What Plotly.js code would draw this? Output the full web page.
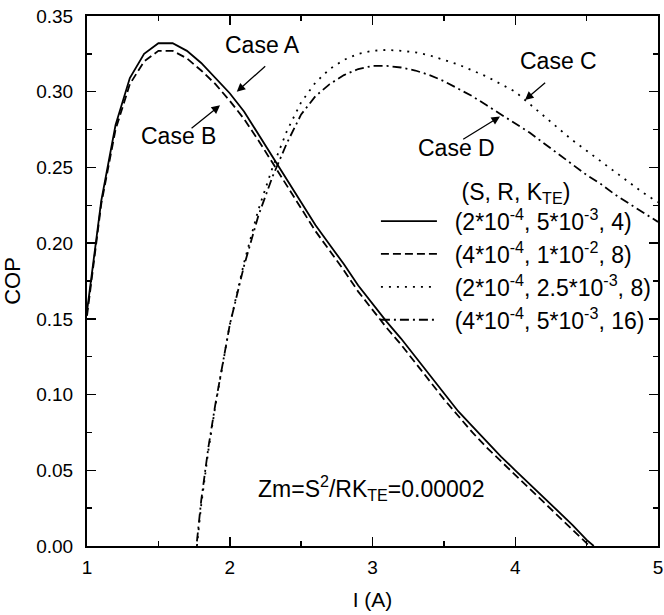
<!DOCTYPE html>
<html>
<head>
<meta charset="utf-8">
<script src="https://cdn.plot.ly/plotly-3.0.1.min.js"></script>
<style>html,body{margin:0;padding:0;background:#fff;}#chart{width:664px;height:615px;}</style>
</head>
<body>
<div id="chart"></div>
<script>
// Case A: (2e-4, 5e-3, 4)
const currentA = [1.0,1.1,1.2,1.3,1.4,1.5,1.6,1.7,1.8,1.9,2.0,2.1,2.2,2.3,2.4,2.5,2.6,2.7,2.8,2.9,3.0,3.1,3.2,3.3,3.4,3.5,3.6,3.7,3.8,3.9,4.0,4.1,4.2,4.3,4.4,4.5,4.55];
const copA = [0.155,0.228,0.278,0.309,0.325,0.332,0.332,0.327,0.319,0.309,0.299,0.287,0.272,0.257,0.242,0.227,0.212,0.199,0.186,0.172,0.160,0.148,0.137,0.125,0.113,0.101,0.089,0.079,0.069,0.059,0.050,0.041,0.032,0.023,0.014,0.004,0.0];
// Case B: (4e-4, 1e-2, 8)
const currentB = [1.0,1.1,1.2,1.3,1.4,1.5,1.6,1.7,1.8,1.9,2.0,2.1,2.2,2.3,2.4,2.5,2.6,2.7,2.8,2.9,3.0,3.1,3.2,3.3,3.4,3.5,3.6,3.7,3.8,3.9,4.0,4.1,4.2,4.3,4.4,4.5,4.52];
const copB = [0.152,0.226,0.275,0.305,0.320,0.327,0.327,0.322,0.314,0.305,0.294,0.282,0.268,0.253,0.238,0.223,0.208,0.195,0.182,0.168,0.156,0.144,0.133,0.121,0.109,0.097,0.086,0.075,0.065,0.056,0.047,0.038,0.029,0.020,0.011,0.002,0.0];
// Case C: (2e-4, 2.5e-3, 8)
const currentC = [1.77,1.8,1.85,1.9,2.0,2.1,2.2,2.3,2.4,2.5,2.6,2.7,2.8,2.9,3.0,3.1,3.2,3.3,3.4,3.5,3.6,3.7,3.8,3.9,4.0,4.1,4.2,4.3,4.4,4.5,4.6,4.7,4.8,4.9,5.0];
const copC = [0.0,0.027,0.063,0.093,0.146,0.187,0.222,0.250,0.274,0.293,0.306,0.315,0.321,0.325,0.327,0.3276,0.327,0.326,0.324,0.321,0.318,0.314,0.310,0.305,0.300,0.292,0.284,0.276,0.268,0.261,0.254,0.247,0.240,0.233,0.227];
// Case D: (4e-4, 5e-3, 16)
const currentD = [1.77,1.8,1.85,1.9,2.0,2.1,2.2,2.3,2.4,2.5,2.6,2.7,2.8,2.9,3.0,3.1,3.2,3.3,3.4,3.5,3.6,3.7,3.8,3.9,4.0,4.1,4.2,4.3,4.4,4.5,4.6,4.7,4.8,4.9,5.0];
const copD = [0.003,0.030,0.065,0.094,0.146,0.185,0.218,0.244,0.266,0.285,0.297,0.305,0.311,0.315,0.317,0.317,0.316,0.314,0.311,0.307,0.302,0.297,0.291,0.285,0.279,0.273,0.266,0.259,0.252,0.245,0.239,0.232,0.226,0.220,0.214];

const legendNames = [
  '  (2*10<sup>-4</sup>, 5*10<sup>-3</sup>, 4)',
  '  (4*10<sup>-4</sup>, 1*10<sup>-2</sup>, 8)',
  '  (2*10<sup>-4</sup>, 2.5*10<sup>-3</sup>, 8)',
  '  (4*10<sup>-4</sup>, 5*10<sup>-3</sup>, 16)'
];
const legendTitle = '(S, R, K<sub>TE</sub>)';
const caseLabels = ['Case A','Case B','Case C','Case D'];
const caseTextPos = [[2.231,0.331],[1.640,0.271],[4.30,0.320],[3.59,0.2627]];
const caseArrowTail = [[2.259,0.3177],[1.722,0.275],[4.22,0.3067],[3.625,0.268]];
const caseArrowTip = [[2.049,0.300],[1.932,0.291],[4.068,0.2946],[3.893,0.2836]];
const zmText = 'Zm=S<sup>2</sup>/RK<sub>TE</sub>=0.00002';

const FONT = 'Liberation Sans, Arial, sans-serif';
const lineStyles = [
  {color:'#000', width:1.8, dash:'solid'},
  {color:'#000', width:1.8, dash:'8px,4px'},
  {color:'#000', width:1.8, dash:'2px,6px'},
  {color:'#000', width:1.8, dash:'9px,4px,2px,4px'}
];
const xs = [currentA,currentB,currentC,currentD];
const ys = [copA,copB,copC,copD];
const data = xs.map((x,i)=>({x:x,y:ys[i],type:'scatter',mode:'lines',name:legendNames[i],line:lineStyles[i]}));

const annotations = [];
caseLabels.forEach((t,i)=>{
  annotations.push({x:caseTextPos[i][0],y:caseTextPos[i][1],xref:'x',yref:'y',text:t,showarrow:false,font:{family:FONT,size:23,color:'#000'}});
  annotations.push({x:caseArrowTip[i][0],y:caseArrowTip[i][1],xref:'x',yref:'y',ax:caseArrowTail[i][0],ay:caseArrowTail[i][1],axref:'x',ayref:'y',text:'',showarrow:true,arrowhead:2,arrowsize:1.3,arrowwidth:1.3,arrowcolor:'#000',standoff:0,startstandoff:0});
});
annotations.push({x:2.99,y:0.0383,xref:'x',yref:'y',text:zmText,showarrow:false,font:{family:FONT,size:23,color:'#000'}});

const axisCommon = {
  showline:true, linewidth:2, linecolor:'#000', mirror:'ticks',
  ticks:'inside', ticklen:9, tickwidth:1.5, tickcolor:'#000',
  showgrid:false, zeroline:false,
  tickfont:{family:FONT,size:19,color:'#000'},
};
const layout = {
  width:664, height:615,
  margin:{l:87,r:6,t:16,b:69},
  paper_bgcolor:'#fff', plot_bgcolor:'#fff',
  font:{family:FONT,color:'#000'},
  xaxis:Object.assign({}, axisCommon, {
    range:[1,5], dtick:1, tick0:1,
    minor:{ticks:'inside',ticklen:5,tickwidth:1.5,dtick:0.5,tickcolor:'#000'},
    ticklabelstandoff:3,
    title:{text:'I (A)',font:{family:FONT,size:21,color:'#000'},standoff:16}
  }),
  yaxis:Object.assign({}, axisCommon, {
    range:[0,0.35], dtick:0.05, tick0:0, tickformat:'.2f',
    minor:{ticks:'inside',ticklen:5,tickwidth:1.5,dtick:0.025,tickcolor:'#000'},
    ticklabelstandoff:8,
    title:{text:'COP',font:{family:FONT,size:22,color:'#000'},standoff:10}
  }),
  showlegend:true,
  legend:{
    x:0.506, y:0.71, xanchor:'left', yanchor:'top',
    bgcolor:'rgba(0,0,0,0)', borderwidth:0,
    font:{family:FONT,size:23,color:'#000'},
    title:{text:legendTitle, side:'top center', font:{family:FONT,size:23,color:'#000'}},
    itemwidth:56, tracegroupgap:0
  },
  annotations:annotations
};
Plotly.newPlot('chart', data, layout, {displayModeBar:false, staticPlot:true});
</script>
</body>
</html>
